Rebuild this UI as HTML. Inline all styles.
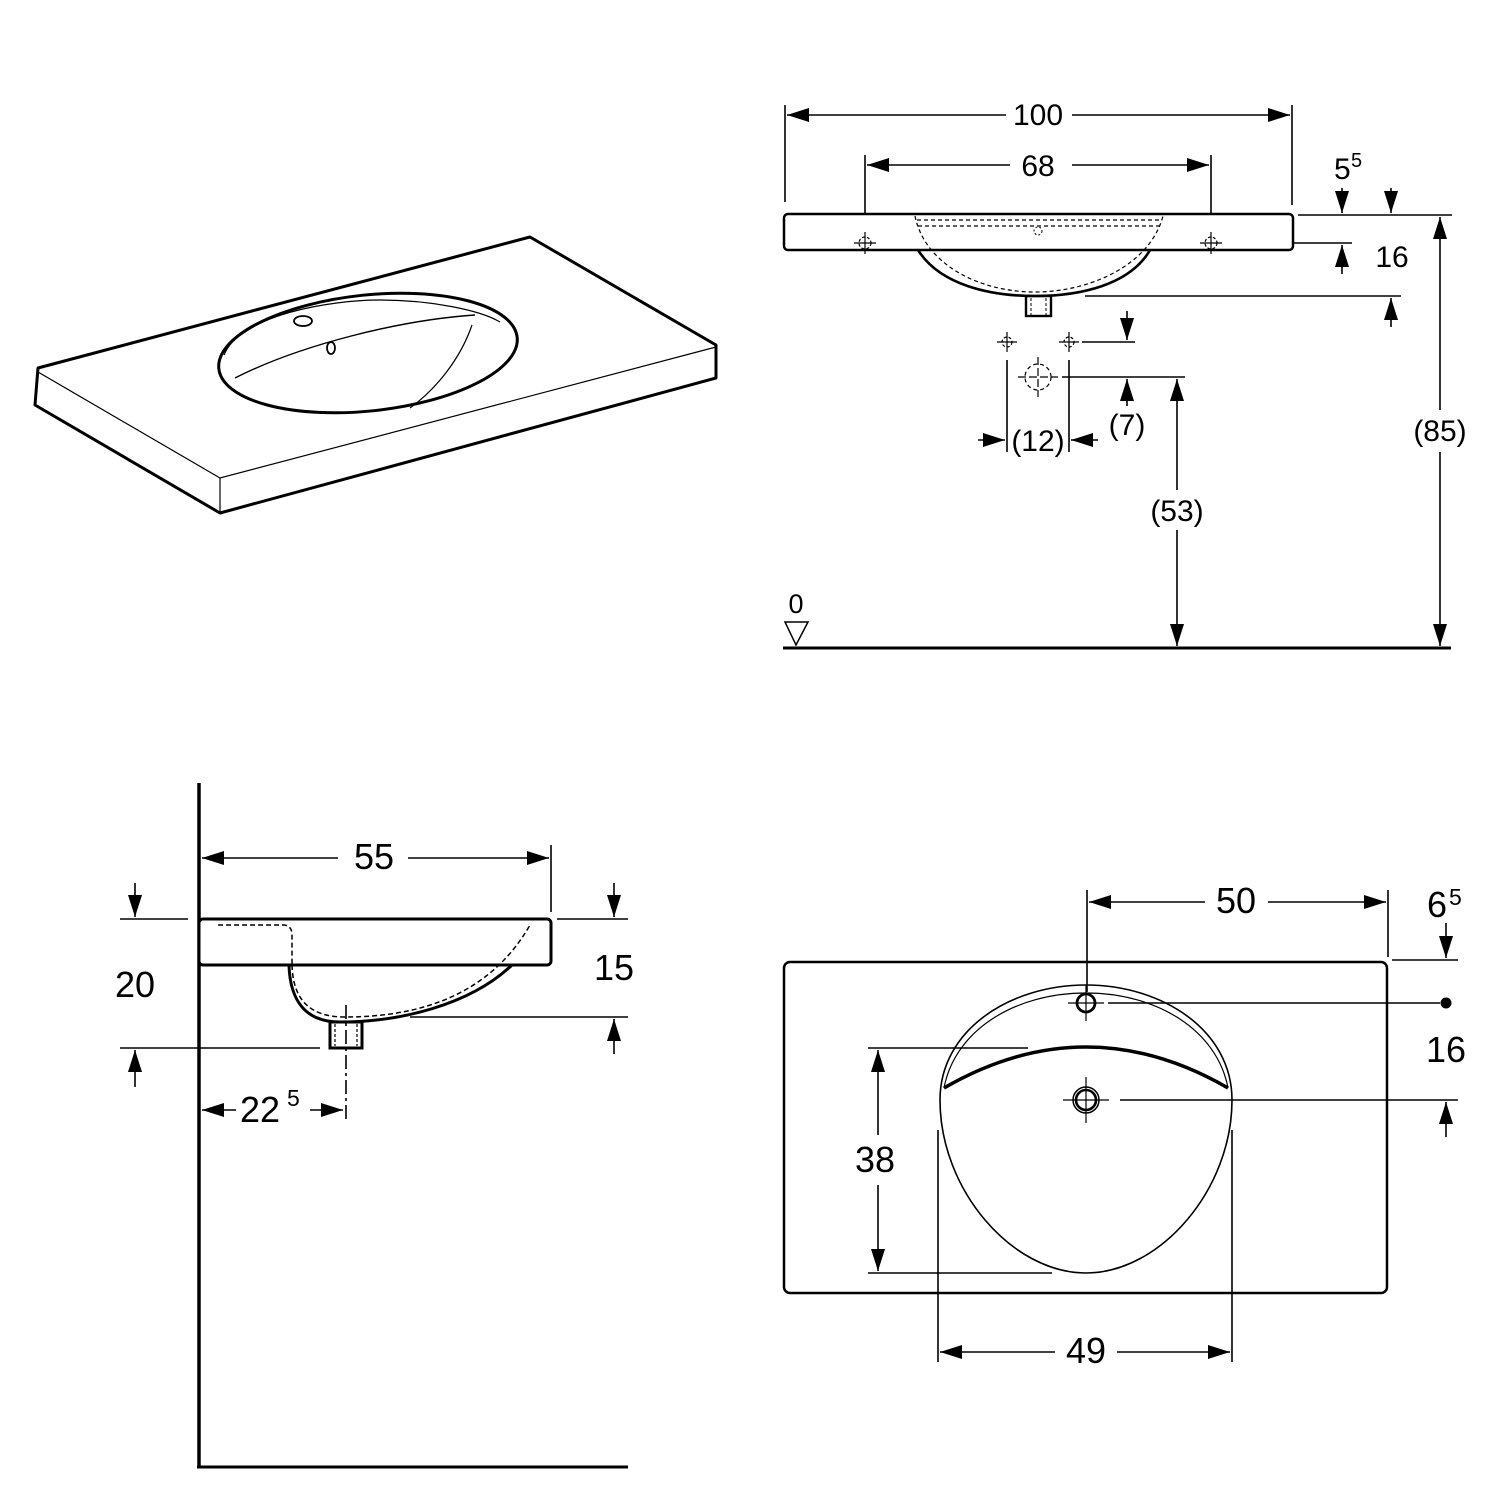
<!DOCTYPE html>
<html><head><meta charset="utf-8"><style>
html,body{margin:0;padding:0;background:#fff;}
svg{display:block;}
text{font-family:"Liberation Sans",sans-serif;fill:#000;}
</style></head><body>
<svg width="1500" height="1500" viewBox="0 0 1500 1500" xmlns="http://www.w3.org/2000/svg">
<defs>
<marker id="a" viewBox="0 0 22 14" refX="22" refY="7" markerWidth="22" markerHeight="14" markerUnits="userSpaceOnUse" orient="auto-start-reverse"><path d="M0,0 L22,7 L0,14 Z" fill="#000"/></marker>
</defs>
<g fill="none" stroke="#000">
<!-- ISO -->
<path d="M38,368 L530,237 L716,345 L716,378 L220,513 L35,405 Z" stroke-width="3" stroke-linejoin="round"/>
<path d="M38,372 L220,478 L716,347 M220,478 L220,513" stroke-width="1.2"/>
<ellipse cx="368" cy="353" rx="150" ry="58" transform="rotate(-6 368 353)" stroke-width="3"/>
<path d="M224,355 C240,315 330,300 380,300 C430,300 480,310 500,322" stroke-width="1.2"/>
<path d="M235,378 C300,345 400,320 475,315" stroke-width="1.4"/>
<path d="M472,325 C460,360 435,390 410,408" stroke-width="1.2"/>
<ellipse cx="303" cy="321" rx="9" ry="5" stroke-width="1.8"/>
<ellipse cx="331" cy="348" rx="4" ry="6" stroke-width="1.8"/>

<!-- FRONT VIEW -->
<g stroke-width="1.6">
<line x1="785" y1="105" x2="785" y2="202"/>
<line x1="1292" y1="105" x2="1292" y2="205"/>
<line x1="787" y1="115" x2="1006" y2="115" marker-start="url(#a)"/>
<line x1="1072" y1="115" x2="1290" y2="115" marker-end="url(#a)"/>
<line x1="865" y1="155" x2="865" y2="250"/>
<line x1="1211" y1="155" x2="1211" y2="250"/>
<line x1="867" y1="165" x2="1010" y2="165" marker-start="url(#a)"/>
<line x1="1072" y1="165" x2="1209" y2="165" marker-end="url(#a)"/>
<line x1="1298" y1="215" x2="1452" y2="215"/>
<line x1="1342" y1="188" x2="1342" y2="213" marker-end="url(#a)"/>
<line x1="1391" y1="188" x2="1391" y2="213" marker-end="url(#a)"/>
<line x1="1225" y1="243" x2="1352" y2="243"/>
<line x1="1342" y1="274" x2="1342" y2="245" marker-end="url(#a)"/>
<line x1="1085" y1="296" x2="1401" y2="296"/>
<line x1="1391" y1="327" x2="1391" y2="298" marker-end="url(#a)"/>
<line x1="1440" y1="217" x2="1440" y2="410" marker-start="url(#a)"/>
<line x1="1440" y1="452" x2="1440" y2="646" marker-end="url(#a)"/>
<line x1="1082" y1="342" x2="1135" y2="342"/>
<line x1="1127" y1="311" x2="1127" y2="340" marker-end="url(#a)"/>
<line x1="1062" y1="377" x2="1185" y2="377"/>
<line x1="1127" y1="406" x2="1127" y2="379" marker-end="url(#a)"/>
<line x1="1177" y1="379" x2="1177" y2="490" marker-start="url(#a)"/>
<line x1="1177" y1="530" x2="1177" y2="646" marker-end="url(#a)"/>
<line x1="1007" y1="360" x2="1007" y2="452"/>
<line x1="1069" y1="360" x2="1069" y2="452"/>
<line x1="978" y1="440" x2="1005" y2="440" marker-end="url(#a)"/>
<line x1="1098" y1="440" x2="1071" y2="440" marker-end="url(#a)"/>
</g>
<rect x="784" y="214" width="509" height="36" rx="4" stroke-width="2.5" fill="#fff"/>
<path d="M918,250 C940,285 990,296 1035,296 C1080,296 1130,285 1150,250" stroke-width="2.6"/>
<path d="M915,216 C925,265 980,292 1035,292 C1090,292 1150,265 1163,216" stroke-width="1.2" stroke-dasharray="4,3"/>
<path d="M917,220 H1161 M918,226 H1160" stroke-width="1.2" stroke-dasharray="4,3"/>
<circle cx="1038" cy="231" r="4" stroke-width="1" stroke-dasharray="2,2"/>
<rect x="1026" y="296" width="25" height="20" stroke-width="2.4"/>
<path d="M1031,298 V316 M1046,298 V316" stroke-width="1" stroke-dasharray="3,2"/>
<g stroke-width="1.2">
<circle cx="865" cy="243" r="6" stroke-dasharray="3,2"/><path d="M854,243 H876 M865,232 V254"/>
<circle cx="1211" cy="243" r="6" stroke-dasharray="3,2"/><path d="M1200,243 H1222 M1211,232 V254"/>
<circle cx="1007" cy="342" r="5" stroke-dasharray="3,2"/><path d="M997,342 H1017 M1007,332 V352"/>
<circle cx="1069" cy="342" r="5" stroke-dasharray="3,2"/><path d="M1059,342 H1079 M1069,332 V352"/>
<circle cx="1038" cy="377" r="13" stroke-dasharray="4,3"/><path d="M1018,377 H1058 M1038,357 V397" stroke-dasharray="8,3"/>
</g>
<line x1="783" y1="648" x2="1451" y2="648" stroke-width="3"/>
<path d="M785,622 H808 L796,645 Z" stroke-width="1.5"/>

<!-- SIDE VIEW -->
<line x1="199" y1="783" x2="199" y2="1468" stroke-width="3.5"/>
<line x1="197" y1="1467" x2="628" y2="1467" stroke-width="3"/>
<g stroke-width="1.6">
<line x1="551" y1="845" x2="551" y2="912"/>
<line x1="202" y1="858" x2="338" y2="858" marker-start="url(#a)"/>
<line x1="408" y1="858" x2="549" y2="858" marker-end="url(#a)"/>
<line x1="120" y1="919" x2="188" y2="919"/>
<line x1="135" y1="883" x2="135" y2="917" marker-end="url(#a)"/>
<line x1="120" y1="1048" x2="320" y2="1048"/>
<line x1="135" y1="1087" x2="135" y2="1050" marker-end="url(#a)"/>
<line x1="557" y1="919" x2="628" y2="919"/>
<line x1="614" y1="883" x2="614" y2="917" marker-end="url(#a)"/>
<line x1="410" y1="1017" x2="628" y2="1017"/>
<line x1="614" y1="1054" x2="614" y2="1019" marker-end="url(#a)"/>
<line x1="202" y1="1110" x2="236" y2="1110" marker-start="url(#a)"/>
<line x1="310" y1="1110" x2="343" y2="1110" marker-end="url(#a)"/>
<line x1="346" y1="1005" x2="346" y2="1120" stroke-dasharray="14,4,3,4"/>
</g>
<rect x="199" y="919" width="352" height="46" rx="4" stroke-width="3" fill="#fff"/>
<path d="M289,965 C290,1000 305,1022 340,1022 C400,1022 470,1005 512,965" stroke-width="3"/>
<path d="M218,925 H283 Q292,925 292,935 V965 M292,965 C293,1000 310,1017 345,1017 C420,1017 490,995 530,925" stroke-width="1.5" stroke-dasharray="5,3"/>
<rect x="330" y="1022" width="32" height="26" stroke-width="3"/>
<path d="M335,1024 V1046 M357,1024 V1046" stroke-width="1.2" stroke-dasharray="3,2"/>

<!-- PLAN VIEW -->
<rect x="784" y="962" width="603" height="331" rx="6" stroke-width="2.5"/>
<g stroke-width="1.6">
<line x1="1087" y1="890" x2="1087" y2="992"/>
<line x1="1388" y1="890" x2="1388" y2="957"/>
<line x1="1089" y1="902" x2="1205" y2="902" marker-start="url(#a)"/>
<line x1="1268" y1="902" x2="1386" y2="902" marker-end="url(#a)"/>
<line x1="1392" y1="960" x2="1458" y2="960"/>
<line x1="1446" y1="923" x2="1446" y2="958" marker-end="url(#a)"/>
<line x1="1108" y1="1003" x2="1440" y2="1003"/>
<line x1="1120" y1="1100" x2="1458" y2="1100"/>
<line x1="1446" y1="1137" x2="1446" y2="1102" marker-end="url(#a)"/>
<line x1="868" y1="1048" x2="1028" y2="1048"/>
<line x1="868" y1="1273" x2="1052" y2="1273"/>
<line x1="878" y1="1050" x2="878" y2="1135" marker-start="url(#a)"/>
<line x1="878" y1="1185" x2="878" y2="1271" marker-end="url(#a)"/>
<line x1="938" y1="1130" x2="938" y2="1362"/>
<line x1="1232" y1="1130" x2="1232" y2="1362"/>
<line x1="940" y1="1352" x2="1055" y2="1352" marker-start="url(#a)"/>
<line x1="1117" y1="1352" x2="1230" y2="1352" marker-end="url(#a)"/>
</g>
<circle cx="1446" cy="1003" r="5.5" fill="#000" stroke="none"/>
<path d="M940,1100 C940,1030 1010,985 1086,985 C1162,985 1232,1030 1232,1100 C1232,1190 1160,1273 1086,1273 C1012,1273 940,1190 940,1100 Z" stroke-width="1.6"/>
<path d="M944,1088 C955,1030 1015,993 1086,993 C1157,993 1217,1030 1228,1088" stroke-width="1.2"/>
<path d="M944,1088 Q1086,1006 1228,1088" stroke-width="3.5"/>
<circle cx="1086" cy="1003" r="9" stroke-width="2.8"/>
<path d="M1068,1003 H1104 M1086,985 V1021" stroke-width="1.2"/>
<circle cx="1086" cy="1100" r="13" stroke-width="1.5"/>
<circle cx="1086" cy="1100" r="10" stroke-width="2.6"/>
<path d="M1063,1100 H1109 M1086,1077 V1123" stroke-width="1.2"/>
</g>

<g font-size="30">
<text x="1038" y="125" text-anchor="middle">100</text>
<text x="1038" y="176" text-anchor="middle">68</text>
<text x="1334" y="179">5</text><text x="1351" y="167" font-size="20">5</text>
<text x="1392" y="267" text-anchor="middle">16</text>
<text x="1440" y="441" text-anchor="middle">(85)</text>
<text x="1127" y="435" text-anchor="middle">(7)</text>
<text x="1038" y="451" text-anchor="middle">(12)</text>
<text x="1177" y="521" text-anchor="middle">(53)</text>
<text x="796" y="613" text-anchor="middle" font-size="27">0</text>
</g>
<g font-size="36">
<text x="374" y="869" text-anchor="middle">55</text>
<text x="135" y="997" text-anchor="middle">20</text>
<text x="614" y="980" text-anchor="middle">15</text>
<text x="240" y="1122">22</text><text x="287" y="1106" font-size="23">5</text>
<text x="1236" y="913" text-anchor="middle">50</text>
<text x="1427" y="917">6</text><text x="1449" y="905" font-size="23">5</text>
<text x="1446" y="1062" text-anchor="middle">16</text>
<text x="875" y="1172" text-anchor="middle">38</text>
<text x="1086" y="1363" text-anchor="middle">49</text>
</g>
</svg>
</body></html>
